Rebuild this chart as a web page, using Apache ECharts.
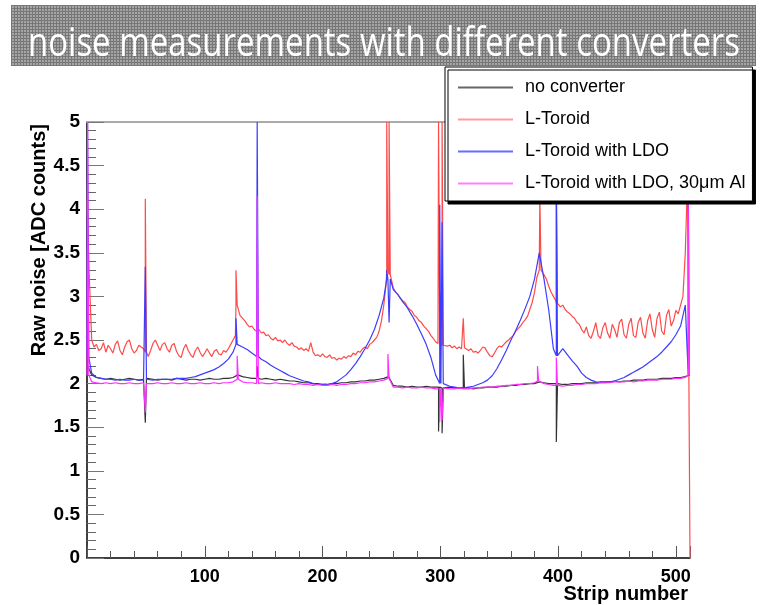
<!DOCTYPE html>
<html>
<head>
<meta charset="utf-8">
<script src="https://cdn.jsdelivr.net/npm/echarts@6/dist/echarts.min.js"></script>
<style>
  html, body { margin: 0; padding: 0; background: #fff; }
  #chart { width: 766px; height: 605px; }
</style>
</head>
<body>
<div id="chart"></div>
<script>
// noise per strip (black/blue/magenta every 4 strips, red every 2)
const blackVals = [
  2.22, 2.10, 2.07, 2.06, 2.05, 2.06, 2.05, 2.04, 2.05, 2.06,
  2.05, 2.04, 2.05, 2.06, 2.05, 2.04, 2.05, 2.05, 2.04, 2.06,
  2.05, 2.04, 2.05, 2.05, 2.04, 2.05, 2.06, 2.05, 2.05, 2.06,
  2.06, 2.07, 2.10, 2.08, 2.07, 2.06, 2.06, 2.05, 2.06, 2.05,
  2.04, 2.05, 2.04, 2.03, 2.03, 2.02, 2.01, 2.01, 2.00, 2.00,
  1.99, 1.99, 2.00, 2.00, 2.01, 2.01, 2.02, 2.02, 2.03, 2.03,
  2.04, 2.04, 2.05, 2.06, 2.08, 1.98, 1.97, 1.97, 1.96, 1.97,
  1.96, 1.96, 1.97, 1.96, 1.96, 1.96, 1.95, 1.96, 1.95, 1.95,
  1.95, 1.95, 1.94, 1.95, 1.95, 1.96, 1.96, 1.96, 1.97, 1.97,
  1.98, 1.98, 1.99, 1.99, 2.00, 2.00, 2.02, 2.01, 2.00, 2.00,
  2.00, 1.99, 1.99, 2.00, 2.00, 2.00, 2.01, 2.01, 2.01, 2.02,
  2.02, 2.02, 2.03, 2.02, 2.03, 2.03, 2.04, 2.04, 2.04, 2.05,
  2.05, 2.05, 2.06, 2.06, 2.06, 2.07, 2.07, 2.08, 2.10
];
const redVals = [
  4.10, 3.20, 2.50, 2.42, 2.45, 2.38, 2.40, 2.47, 2.36, 2.44,
  2.40, 2.35, 2.45, 2.49, 2.38, 2.33, 2.42, 2.48, 2.50, 2.40,
  2.35, 2.38, 2.44, 2.42, 2.40, 2.36, 2.31, 2.38, 2.46, 2.50,
  2.44, 2.38, 2.45, 2.47, 2.40, 2.36, 2.44, 2.46, 2.37, 2.32,
  2.30, 2.40, 2.45, 2.38, 2.33, 2.30, 2.38, 2.42, 2.36, 2.31,
  2.35, 2.40, 2.35, 2.31, 2.37, 2.39, 2.34, 2.33, 2.38, 2.36,
  2.40, 2.45, 2.50, 2.55, 2.90, 2.78, 2.75, 2.72, 2.68, 2.65,
  2.66, 2.62, 2.60, 2.62, 2.58, 2.59, 2.55, 2.56, 2.52, 2.50,
  2.53, 2.49, 2.50, 2.47, 2.50, 2.46, 2.44, 2.47, 2.43, 2.42,
  2.39, 2.41, 2.38, 2.40, 2.37, 2.47, 2.36, 2.32, 2.33, 2.31,
  2.34, 2.31, 2.30, 2.33, 2.29, 2.30, 2.27, 2.29, 2.28, 2.31,
  2.29, 2.32, 2.31, 2.35, 2.33, 2.37, 2.36, 2.40, 2.42, 2.40,
  2.45, 2.47, 2.50, 2.53, 2.60, 2.72, 2.90, 3.15, 3.30, 3.25,
  3.10, 3.05, 3.02, 2.98, 2.95, 2.93, 2.88, 2.85, 2.83, 2.78,
  2.76, 2.72, 2.70, 2.66, 2.63, 2.60, 2.55, 2.52, 2.48, 2.46,
  2.45, 2.44, 2.46, 2.43, 2.44, 2.41, 2.43, 2.40, 2.42, 2.40,
  2.41, 2.40, 2.38, 2.40, 2.36, 2.37, 2.35, 2.38, 2.42, 2.41,
  2.36, 2.32, 2.31, 2.35, 2.40, 2.43, 2.42, 2.45, 2.48, 2.50,
  2.53, 2.55, 2.60, 2.63, 2.66, 2.70, 2.73, 2.77, 2.85, 2.93,
  3.05, 3.22, 3.30, 3.30, 3.25, 3.20, 3.12, 3.05, 3.00, 2.95,
  2.92, 2.88, 2.90, 2.85, 2.82, 2.80, 2.77, 2.75, 2.70, 2.68,
  2.62, 2.58, 2.65, 2.55, 2.52, 2.60, 2.70, 2.55, 2.52, 2.64,
  2.70, 2.58, 2.52, 2.68, 2.62, 2.53, 2.70, 2.74, 2.56, 2.52,
  2.68, 2.75, 2.55, 2.53, 2.70, 2.76, 2.58, 2.52, 2.72, 2.80,
  2.62, 2.53, 2.75, 2.82, 2.60, 2.56, 2.78, 2.85, 2.66, 2.72,
  2.84, 2.80, 2.90, 3.00, 3.50, 4.40, 0.00
];
const blueVals = [
  2.30, 2.12, 2.07, 2.06, 2.05, 2.05, 2.04, 2.05, 2.04, 2.04,
  2.05, 2.04, 2.04, 2.05, 2.04, 2.05, 2.05, 2.05, 2.05, 2.06,
  2.06, 2.06, 2.07, 2.08, 2.10, 2.12, 2.14, 2.16, 2.19, 2.23,
  2.28, 2.36, 2.45, 2.42, 2.39, 2.35, 2.31, 2.28, 2.25, 2.21,
  2.18, 2.15, 2.12, 2.09, 2.07, 2.05, 2.03, 2.02, 2.00, 1.99,
  1.99, 1.99, 2.00, 2.02, 2.06, 2.10, 2.16, 2.23, 2.31, 2.40,
  2.50, 2.62, 2.78, 2.98, 3.20, 3.08, 3.02, 2.94, 2.87, 2.78,
  2.68, 2.57, 2.45, 2.30, 2.10, 2.00, 2.00, 1.97, 1.96, 1.95,
  1.95, 1.96, 1.97, 1.99, 2.01, 2.04, 2.09, 2.17, 2.27, 2.38,
  2.50, 2.61, 2.73, 2.86, 3.00, 3.20, 3.50, 3.20, 2.85, 2.40,
  2.32, 2.40, 2.33, 2.26, 2.20, 2.12, 2.07, 2.04, 2.02, 2.01,
  2.01, 2.02, 2.03, 2.05, 2.07, 2.10, 2.13, 2.16, 2.19, 2.23,
  2.27, 2.31, 2.36, 2.42, 2.48, 2.56, 2.66, 2.90, 2.10
];
const magentaVals = [
  2.10, 2.02, 2.01, 2.00, 2.01, 2.00, 2.01, 2.00, 2.00, 2.01,
  2.00, 2.00, 2.01, 2.00, 2.00, 2.01, 2.00, 2.00, 2.01, 2.00,
  2.00, 2.01, 2.00, 2.00, 2.01, 2.00, 2.00, 2.01, 2.00, 2.01,
  2.01, 2.02, 2.05, 2.02, 2.01, 2.01, 2.00, 2.01, 2.00, 2.00,
  2.01, 2.00, 2.00, 2.00, 1.99, 2.00, 1.99, 1.99, 1.98, 1.99,
  1.98, 1.98, 1.99, 1.98, 1.99, 1.99, 2.00, 2.00, 2.01, 2.01,
  2.02, 2.02, 2.03, 2.04, 2.06, 1.96, 1.96, 1.95, 1.96, 1.95,
  1.95, 1.96, 1.95, 1.95, 1.94, 1.94, 1.95, 1.94, 1.94, 1.95,
  1.94, 1.94, 1.95, 1.95, 1.96, 1.96, 1.96, 1.97, 1.97, 1.98,
  1.98, 1.99, 1.99, 2.00, 2.00, 2.01, 2.03, 2.00, 1.99, 1.98,
  1.98, 1.97, 1.98, 1.98, 1.99, 1.99, 2.00, 2.00, 2.00, 2.01,
  2.01, 2.01, 2.02, 2.02, 2.02, 2.03, 2.02, 2.03, 2.03, 2.04,
  2.04, 2.04, 2.05, 2.05, 2.05, 2.06, 2.06, 2.07, 2.10
];

// single-strip spikes: [strip, noise]
const blackSpikes = [[50, 1.55], [145, 2.2], [299, 1.45], [302, 1.43], [320, 2.33], [399, 1.33]];
const redSpikes = [[50, 4.12], [127, 3.3], [255, 5], [257, 5], [299, 5], [302, 5], [320, 2.75], [385, 4.15], [399, 4.3]];
const blueSpikes = [[1, 5], [50, 3.34], [127, 2.75], [145, 5], [255, 3.3], [257, 2.7], [300, 4.05], [302, 3.85], [399, 4.3], [511, 4.3]];
const magentaSpikes = [[1, 5], [50, 1.67], [128, 2.32], [145, 4.15], [256, 2.34], [300, 1.56], [302, 1.58], [383, 2.2], [399, 2.3], [511, 4.1]];

const seriesNames = ['no converter', 'L-Toroid', 'L-Toroid with LDO', 'L-Toroid with LDO, 30\u03bcm Al'];
const TITLE = 'noise measurements with different converters';

// merge the sampled values with the one-strip spikes (drawn as a 1-strip wide bin)
function build(values, step, spikes) {
  const pts = [];
  values.forEach((v, i) => {
    const s = i * step;
    if (!spikes.some(p => Math.abs(p[0] - s) < 0.5)) pts.push([s, v]);
  });
  spikes.forEach(p => {
    const base = values[Math.round(p[0] / step)];
    pts.push([p[0] - 0.5, base], [p[0] - 0.5, p[1]], [p[0] + 0.5, p[1]], [p[0] + 0.5, base]);
  });
  return pts.sort((a, b) => a[0] - b[0]);
}

// grey halftone for the title banner
const tile = document.createElement('canvas');
tile.width = 3; tile.height = 3;
const tctx = tile.getContext('2d');
tctx.fillStyle = '#a6a6a6';
tctx.fillRect(0, 0, 3, 3);
tctx.fillStyle = '#777';
tctx.fillRect(0, 2, 3, 1);
tctx.fillRect(2, 0, 1, 3);

const measure = document.createElement('canvas').getContext('2d');
measure.font = '40px "Open Sans"';
const titleScale = 712 / measure.measureText(TITLE).width;

const chart = echarts.init(document.getElementById('chart'));

function lineSeries(name, data, color) {
  return {
    name: name,
    type: 'line',
    data: data,
    symbol: 'none',
    showSymbol: false,
    animation: false,
    lineStyle: { color: color, width: 1.2 },
    itemStyle: { color: color }
  };
}

const option = {
  animation: false,
  grid: { left: 87, right: 76, top: 122, bottom: 47 },
  legend: {
    left: 445,
    top: 67,
    orient: 'vertical',
    icon: 'rect',
    itemWidth: 55,
    itemHeight: 2,
    itemGap: 13,
    padding: [11, 7, 8, 13],
    selectedMode: false,
    backgroundColor: '#fff',
    borderColor: '#000',
    borderWidth: 1,
    shadowColor: '#000',
    shadowOffsetX: 3,
    shadowOffsetY: 3,
    shadowBlur: 0,
    textStyle: { fontFamily: 'Liberation Sans', fontSize: 18, color: '#000', lineHeight: 19, padding: [0, 0, 0, 7] },
    data: [
      { name: seriesNames[0], itemStyle: { color: '#666' } },
      { name: seriesNames[1], itemStyle: { color: '#ff9c9c' } },
      { name: seriesNames[2], itemStyle: { color: '#6a6aff' } },
      { name: seriesNames[3], itemStyle: { color: '#ff80ff' } }
    ]
  },
  xAxis: [
    {
      type: 'value',
      min: 0,
      max: 512,
      interval: 100,
      axisLine: { lineStyle: { color: '#000', width: 1.5 } },
      axisTick: { inside: true, length: 12, lineStyle: { color: '#555' } },
      minorTick: { show: true, splitNumber: 5, length: 7, lineStyle: { color: '#555' } },
      splitLine: { show: false },
      axisLabel: {
        margin: 10,
        color: '#000',
        fontFamily: 'Liberation Sans',
        fontWeight: 'bold',
        fontSize: 18,
        formatter: v => (v > 0 && v % 100 === 0) ? String(v) : ''
      }
    },
    {
      type: 'value',
      position: 'top',
      min: 0,
      max: 512,
      axisLine: { show: true, lineStyle: { color: '#aaa', width: 2 } },
      axisTick: { show: false },
      axisLabel: { show: false },
      splitLine: { show: false }
    }
  ],
  yAxis: {
    type: 'value',
    min: 0,
    max: 5,
    interval: 0.5,
    axisLine: { show: true, lineStyle: { color: '#000', width: 1.5 } },
    axisTick: { inside: true, length: 17, lineStyle: { color: '#777' } },
    minorTick: { show: true, splitNumber: 5, length: 9, lineStyle: { color: '#666' } },
    splitLine: { show: false },
    axisLabel: {
      margin: 7,
      color: '#000',
      fontFamily: 'Liberation Sans',
      fontWeight: 'bold',
      fontSize: 19
    }
  },
  series: [
    lineSeries(seriesNames[0], build(blackVals, 4, blackSpikes), '#333'),
    lineSeries(seriesNames[1], build(redVals, 2, redSpikes), '#ff4a4a'),
    lineSeries(seriesNames[2], build(blueVals, 4, blueSpikes), '#3c3cff'),
    lineSeries(seriesNames[3], build(magentaVals, 4, magentaSpikes), '#ff30ff')
  ],
  graphic: [
    {
      type: 'rect',
      shape: { x: 11, y: 5, width: 745, height: 61 },
      style: { fill: { image: tile, repeat: 'repeat' } },
      z: 10
    },
    {
      type: 'text',
      x: 384,
      y: 45,
      scaleX: titleScale,
      style: {
        text: TITLE,
        fill: '#fff',
        font: '40px "Open Sans"',
        textAlign: 'center',
        textVerticalAlign: 'middle'
      },
      z: 11
    },
    {
      type: 'text',
      x: 39,
      y: 124,
      rotation: Math.PI / 2,
      style: {
        text: 'Raw noise [ADC counts]',
        fill: '#000',
        font: 'bold 20px "Liberation Sans"',
        textAlign: 'right',
        textVerticalAlign: 'middle'
      }
    },
    {
      type: 'text',
      x: 688,
      y: 594,
      style: {
        text: 'Strip number',
        fill: '#000',
        font: 'bold 20px "Liberation Sans"',
        textAlign: 'right',
        textVerticalAlign: 'middle'
      }
    }
  ]
};

chart.setOption(option);
</script>
</body>
</html>
